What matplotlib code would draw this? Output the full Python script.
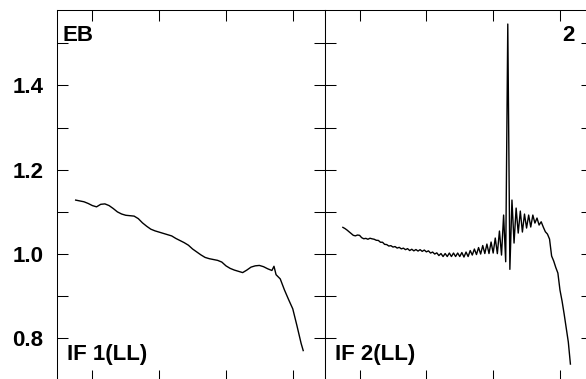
import matplotlib
matplotlib.use("Agg")
import matplotlib.pyplot as plt
import numpy as np

plt.rcParams['font.family'] = ['Liberation Sans', 'DejaVu Sans']
plt.rcParams['font.weight'] = 'bold'

# IF 1 (LL): bandpass amplitude, sampled every 2 channels
chan_if1 = [8, 10, 12, 14, 16, 18, 20, 22, 24, 26, 28, 30, 32, 34, 36, 38, 40,
            42, 44, 46, 48, 50, 52, 54, 56, 58, 60, 62, 64, 66, 68, 70, 72, 74,
            76, 78, 80, 82, 84, 86, 88, 90, 92, 94, 96, 98, 100, 102, 103, 104,
            106, 108, 110, 112, 114, 116, 117]
amp_if1 = [1.128, 1.126, 1.124, 1.120, 1.115, 1.112, 1.118, 1.119, 1.115, 1.108,
           1.100, 1.095, 1.092, 1.091, 1.090, 1.084, 1.074, 1.066, 1.059, 1.055,
           1.052, 1.049, 1.046, 1.043, 1.037, 1.032, 1.027, 1.021, 1.012, 1.005,
           0.998, 0.992, 0.989, 0.987, 0.985, 0.981, 0.972, 0.966, 0.962, 0.959,
           0.956, 0.962, 0.969, 0.972, 0.973, 0.970, 0.965, 0.961, 0.971, 0.951,
           0.941, 0.915, 0.892, 0.870, 0.830, 0.788, 0.771]

# IF 2 (LL): one value per channel, 8..117
chan_if2 = np.arange(8, 118)
amp_if2 = [1.0633, 1.0605, 1.0569, 1.0527, 1.0486, 1.0444, 1.0432, 1.0451, 1.0444, 1.0389,
           1.0363, 1.0372, 1.0351, 1.0375, 1.0361, 1.0351, 1.0327, 1.0323, 1.0280, 1.0280,
           1.0230, 1.0225, 1.0190, 1.0199, 1.0166, 1.0178, 1.0142, 1.0159, 1.0123, 1.0140,
           1.0104, 1.0128, 1.0083, 1.0114, 1.0076, 1.0107, 1.0071, 1.0104, 1.0064, 1.0095,
           1.0052, 1.0076, 1.0024, 1.0047, 1.0000, 1.0028, 0.9964, 1.0012, 0.9941, 1.0012,
           0.9941, 1.0024, 0.9941, 1.0024, 0.9941, 1.0024, 0.9941, 1.0036, 0.9929, 1.0047,
           0.9941, 1.0083, 0.9976, 1.0119, 0.9988, 1.0154, 1.0000, 1.0202, 1.0012, 1.0237,
           1.0012, 1.0285, 1.0024, 1.0380, 1.0010, 1.0546, 0.9976, 1.0925, 0.9817, 1.5457,
           0.9637, 1.1281, 1.0261, 1.1091, 1.0498, 1.1020, 1.0522, 1.0949, 1.0617, 1.0925,
           1.0641, 1.0925, 1.0735, 1.0854, 1.0688, 1.0766, 1.0641, 1.0529, 1.0474, 1.0356,
           0.9953, 0.9834, 0.9680, 0.9549, 0.9146, 0.8885, 0.8577, 0.8244, 0.7912, 0.7390]

panels = [(chan_if1, amp_if1, "IF 1(LL)"), (chan_if2, amp_if2, "IF 2(LL)")]

x_ticks = [16, 48, 80, 112]
y_major = [0.8, 1.0, 1.2, 1.4]
y_minor = [0.9, 1.1, 1.3, 1.5]

W, H = 586, 379
fig = plt.figure(figsize=(W / 100, H / 100), dpi=100)

ax_w = 267.2 / W
ax_b = (H - 380.5) / H
ax_h = 370.5 / H
lefts = [57.3 / W, 324.5 / W]
fs = 16

for i, (chan, amp, label) in enumerate(panels):
    ax = fig.add_axes([lefts[i], ax_b, ax_w, ax_h])
    ax.plot(chan, amp, color='black', lw=1.0)
    ax.set_xlim(-0.8, 127.2)
    ax.set_ylim(0.7, 1.579)
    ax.set_xticks(x_ticks)
    ax.set_yticks(y_major)
    ax.set_yticks(y_minor, minor=True)
    ax.set_xticklabels([])
    ax.set_yticklabels(['0.8', '1.0', '1.2', '1.4'])
    ax.tick_params(which='both', direction='in', length=8, width=0.75,
                   top=True, right=True, bottom=True, left=True, pad=10,
                   labelsize=fs)
    if i == 1:
        ax.tick_params(labelleft=False)
    for s in ax.spines.values():
        s.set_linewidth(0.75)
    ax.text(0.038, 0.0553, label, transform=ax.transAxes, fontsize=fs,
            fontweight='bold', ha='left', va='baseline')

fig.axes[0].text(0.021, 0.96, "EB", transform=fig.axes[0].transAxes,
                 fontsize=fs, fontweight='bold', ha='left', va='top')
fig.axes[1].text(0.9375, 0.96, "2", transform=fig.axes[1].transAxes,
                 fontsize=fs, fontweight='bold', ha='right', va='top')

fig.savefig("out.png", dpi=100)
